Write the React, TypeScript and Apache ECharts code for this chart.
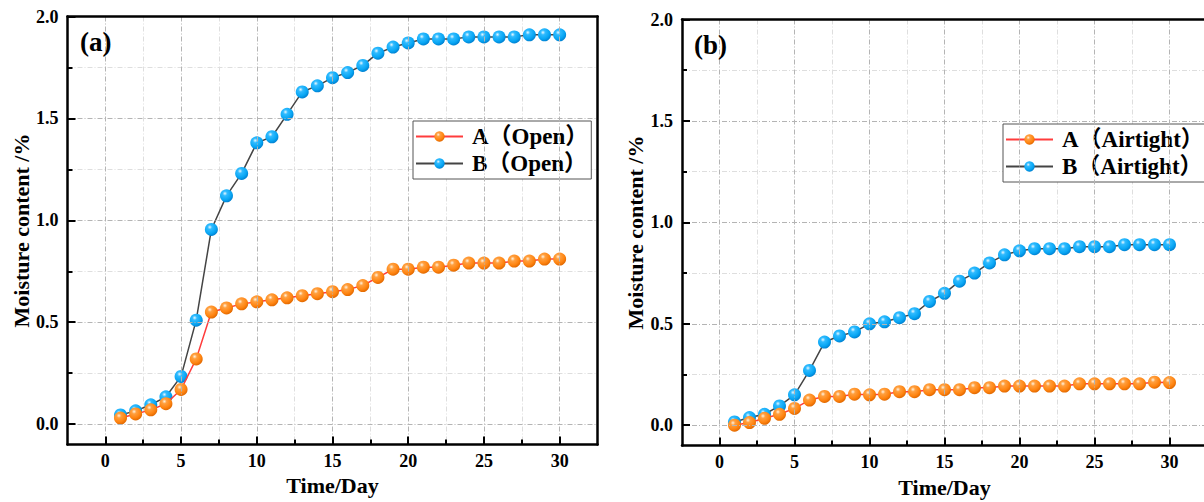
import React, { useEffect, useRef } from "react";
import * as echarts from "echarts";

const days = [1, 2, 3, 4, 5, 6, 7, 8, 9, 10, 11, 12, 13, 14, 15, 16, 17, 18, 19, 20, 21, 22, 23, 24, 25, 26, 27, 28, 29, 30];
const openA = [0.03, 0.05, 0.07, 0.1, 0.17, 0.32, 0.55, 0.57, 0.59, 0.6, 0.61, 0.62, 0.63, 0.64, 0.65, 0.66, 0.68, 0.72, 0.76, 0.76, 0.77, 0.77, 0.78, 0.79, 0.79, 0.79, 0.8, 0.8, 0.81, 0.81];
const openB = [0.045, 0.065, 0.095, 0.134, 0.234, 0.51, 0.955, 1.12, 1.23, 1.38, 1.41, 1.52, 1.63, 1.66, 1.7, 1.725, 1.76, 1.82, 1.85, 1.87, 1.89, 1.89, 1.89, 1.9, 1.9, 1.9, 1.9, 1.91, 1.91, 1.91];
const airA = [0.0, 0.013, 0.034, 0.054, 0.083, 0.124, 0.142, 0.142, 0.153, 0.15, 0.153, 0.165, 0.165, 0.175, 0.175, 0.175, 0.185, 0.185, 0.193, 0.193, 0.193, 0.193, 0.193, 0.204, 0.204, 0.204, 0.204, 0.204, 0.212, 0.21];
const airB = [0.016, 0.038, 0.054, 0.095, 0.15, 0.27, 0.41, 0.44, 0.46, 0.5, 0.51, 0.53, 0.55, 0.61, 0.65, 0.71, 0.75, 0.8, 0.84, 0.86, 0.87, 0.87, 0.87, 0.88, 0.88, 0.88, 0.89, 0.89, 0.89, 0.89];

const xMajorTicks = [0, 5, 10, 15, 20, 25, 30];
const xMinorTicks = [2.5, 7.5, 12.5, 17.5, 22.5, 27.5];
const yMajorTicks = [0, 0.5, 1, 1.5, 2];
const yMinorTicks = [0.25, 0.75, 1.25, 1.75];

const panelLabels = ["(a)", "(b)"];
const seriesNames = [
  ["A（Open）", "B（Open）"],
  ["A（Airtight）", "B（Airtight）"],
];
const xName = "Time/Day";
const yName = "Moisture content /%";

const FONT = "'Liberation Serif', 'Times New Roman', 'Noto Sans CJK SC', serif";

function zip(xs: number[], ys: number[]) {
  return xs.map((x, i) => [x, ys[i]]);
}

const orangeBall = () =>
  new echarts.graphic.RadialGradient(0.38, 0.32, 0.7, [
    { offset: 0, color: "#fff3e0" },
    { offset: 0.25, color: "#ffa040" },
    { offset: 0.7, color: "#ff8410" },
    { offset: 1, color: "#e06800" },
  ]);
const blueBall = () =>
  new echarts.graphic.RadialGradient(0.38, 0.32, 0.7, [
    { offset: 0, color: "#e8f8ff" },
    { offset: 0.25, color: "#30bbff" },
    { offset: 0.7, color: "#08a6f4" },
    { offset: 1, color: "#0080d0" },
  ]);

const borderLine = { show: true, onZero: false, lineStyle: { color: "#000", width: 2.5 } };
const noLine = { show: false, onZero: false };

export default function App() {
  const ref = useRef<HTMLDivElement>(null);
  useEffect(() => {
    if (!ref.current) return;
    const chart = echarts.init(ref.current, null, { renderer: "svg" });

    const grids = [
      { left: 67.5, top: 16.5, width: 530, height: 428 },
      { left: 682, top: 19.5, width: 525, height: 426 },
    ];
    const titleLeft = [80, 694];
    const legendPos = [
      { left: 413, top: 121 },
      { left: 1003, top: 124 },
    ];
    const yNameGap = [30, 36];
    const xNameGap = [30, 31];

    const xAxes: any[] = [];
    const yAxes: any[] = [];
    const xMainIdx: number[] = [];
    const yMainIdx: number[] = [];
    grids.forEach((g, i) => {
      xMainIdx.push(xAxes.length);
      xAxes.push({
        gridIndex: i,
        type: "value",
        min: -2.5,
        max: 32.5,
        position: "bottom",
        z: 5,
        axisLine: borderLine,
        axisTick: {
          show: true,
          inside: true,
          length: 8,
          customValues: xMajorTicks,
          lineStyle: { color: "#000", width: 2 },
        },
        axisLabel: {
          customValues: xMajorTicks,
          fontFamily: FONT,
          fontWeight: "bold",
          fontSize: 18,
          color: "#000",
          margin: 7,
        },
        splitLine: {
          show: true,
          lineStyle: { color: "#b4b4b4", width: 1, type: [5, 2, 1, 2] },
        },
        name: xName,
        nameLocation: "middle",
        nameGap: xNameGap[i],
        nameTextStyle: { fontFamily: FONT, fontWeight: "bold", fontSize: 22, color: "#000" },
      });
      xAxes.push({
        gridIndex: i,
        type: "value",
        min: -2.5,
        max: 32.5,
        position: "bottom",
        axisLine: noLine,
        axisTick: {
          show: true,
          inside: true,
          length: 5,
          customValues: xMinorTicks,
          lineStyle: { color: "#000", width: 2 },
        },
        axisLabel: { show: false },
        splitLine: {
          show: true,
          lineStyle: { color: "#dedede", width: 1, type: [5, 2, 1, 2] },
        },
      });
      // top frame line
      xAxes.push({
        gridIndex: i,
        type: "value",
        min: -2.5,
        max: 32.5,
        position: "top",
        z: 5,
        axisLine: borderLine,
        axisTick: { show: false },
        axisLabel: { show: false },
        splitLine: { show: false },
      });
      yMainIdx.push(yAxes.length);
      yAxes.push({
        gridIndex: i,
        type: "value",
        min: -0.1,
        max: 2,
        position: "left",
        z: 5,
        axisLine: borderLine,
        axisTick: {
          show: true,
          inside: true,
          length: 8,
          customValues: yMajorTicks,
          lineStyle: { color: "#000", width: 2 },
        },
        axisLabel: {
          customValues: yMajorTicks,
          formatter: (v: number) => v.toFixed(1),
          fontFamily: FONT,
          fontWeight: "bold",
          fontSize: 18,
          color: "#000",
          margin: 9,
        },
        splitLine: {
          show: true,
          lineStyle: { color: "#b4b4b4", width: 1, type: [5, 2, 1, 2] },
        },
        name: yName,
        nameLocation: "middle",
        nameGap: yNameGap[i],
        nameTextStyle: { fontFamily: FONT, fontWeight: "bold", fontSize: 22, color: "#000" },
      });
      yAxes.push({
        gridIndex: i,
        type: "value",
        min: -0.1,
        max: 2,
        position: "left",
        axisLine: noLine,
        axisTick: {
          show: true,
          inside: true,
          length: 5,
          customValues: yMinorTicks,
          lineStyle: { color: "#000", width: 2 },
        },
        axisLabel: { show: false },
        splitLine: {
          show: true,
          lineStyle: { color: "#dedede", width: 1, type: [5, 2, 1, 2] },
        },
      });
      // right frame line (only within the canvas for the left panel)
      yAxes.push({
        gridIndex: i,
        type: "value",
        min: -0.1,
        max: 2,
        position: "right",
        z: 5,
        axisLine: i === 0 ? borderLine : noLine,
        axisTick: { show: false },
        axisLabel: { show: false },
        splitLine: { show: false },
      });
    });

    const dataSets = [
      [openA, openB],
      [airA, airB],
    ];
    const series: any[] = [];
    dataSets.forEach((pair, i) => {
      series.push({
        name: seriesNames[i][1],
        type: "line",
        xAxisIndex: xMainIdx[i],
        yAxisIndex: yMainIdx[i],
        data: zip(days, pair[1]),
        symbol: "circle",
        symbolSize: 13,
        lineStyle: { color: "#444", width: 1.5 },
        itemStyle: { color: blueBall(), borderWidth: 0 },
        z: 3,
        emphasis: { disabled: true },
      });
      series.push({
        name: seriesNames[i][0],
        type: "line",
        xAxisIndex: xMainIdx[i],
        yAxisIndex: yMainIdx[i],
        data: zip(days, pair[0]),
        symbol: "circle",
        symbolSize: 13,
        lineStyle: { color: "#ff3c3c", width: 1.5 },
        itemStyle: { color: orangeBall(), borderWidth: 0 },
        z: 4,
        emphasis: { disabled: true },
      });
    });

    chart.setOption({
      animation: false,
      backgroundColor: "#fff",
      grid: grids.map((g) => ({
        ...g,
        show: false,
        containLabel: false,
        outerBoundsMode: "none",
      })),
      title: panelLabels.map((t, i) => ({
        text: t,
        left: titleLeft[i],
        top: i === 0 ? 28 : 31,
        padding: 0,
        textStyle: { fontFamily: FONT, fontWeight: "bold", fontSize: 27, color: "#000" },
      })),
      legend: seriesNames.map((names, i) => ({
        ...legendPos[i],
        orient: "vertical",
        data: names,
        itemWidth: 47,
        itemHeight: 13,
        itemGap: 4,
        padding: [4, 3, 4, 2],
        borderColor: "#555",
        borderWidth: 1,
        borderRadius: 0,
        backgroundColor: "#fff",
        selectedMode: false,
        textStyle: { fontFamily: FONT, fontWeight: "bold", fontSize: 23, color: "#000", padding: [0, 0, 0, 4] },
      })),
      xAxis: xAxes,
      yAxis: yAxes,
      series,
    });
    return () => chart.dispose();
  }, []);
  return (
    <div
      ref={ref}
      style={{ position: "fixed", left: 0, top: 0, width: 1204, height: 502, background: "#fff" }}
    />
  );
}
